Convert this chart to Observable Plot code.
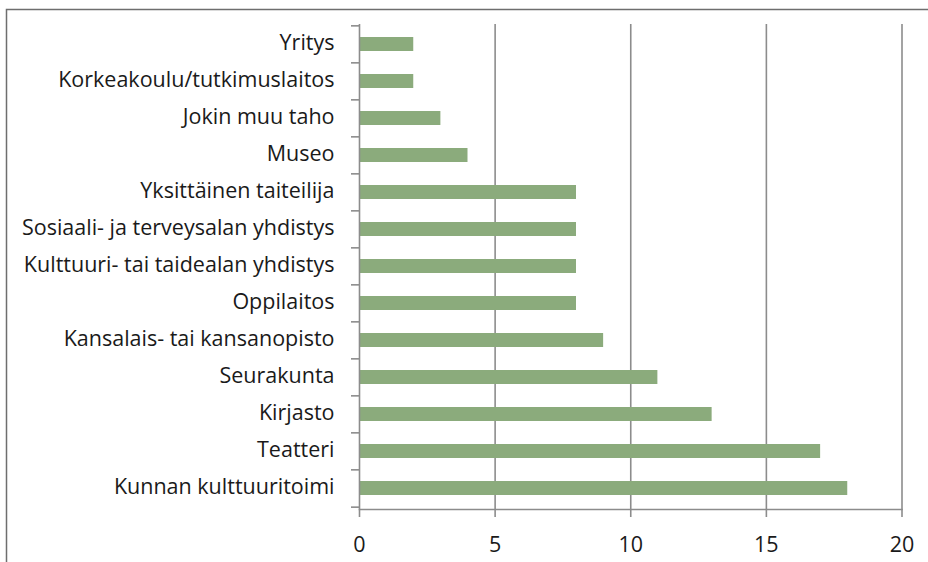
<!DOCTYPE html>
<html>
<head>
<meta charset="utf-8">
<script src="https://cdn.jsdelivr.net/npm/d3@7"></script>
<script src="https://cdn.jsdelivr.net/npm/@observablehq/plot@0.6"></script>
<style>
  html, body { margin: 0; padding: 0; background: #fff; }
  #chart { width: 928px; height: 562px; overflow: hidden; }
</style>
</head>
<body>
<div id="chart"></div>
<script>
const categories = [
  "Yritys",
  "Korkeakoulu/tutkimuslaitos",
  "Jokin muu taho",
  "Museo",
  "Yksittäinen taiteilija",
  "Sosiaali- ja terveysalan yhdistys",
  "Kulttuuri- tai taidealan yhdistys",
  "Oppilaitos",
  "Kansalais- tai kansanopisto",
  "Seurakunta",
  "Kirjasto",
  "Teatteri",
  "Kunnan kulttuuritoimi"
];
const values = [2, 2, 3, 4, 8, 8, 8, 8, 9, 11, 13, 17, 18];
const xTicks = [0, 5, 10, 15, 20];
const gridTicks = [5, 10, 15, 20];

const W = 928, H = 562;
const mTop = 24, mBottom = 53, mLeft = 359, mRight = 26.5;
const step = (H - mTop - mBottom) / categories.length;
const axisGray = "#8c8c8c";
const barColor = "#8bab7c";
const font = "'Open Sans', 'Liberation Sans', sans-serif";

const rows = categories.map((c, i) => ({category: c, value: values[i]}));

const chart = Plot.plot({
  width: W,
  height: H,
  marginTop: mTop,
  marginBottom: mBottom,
  marginLeft: mLeft,
  marginRight: mRight,
  style: {fontFamily: font, fontSize: "21.5px", color: "#1a1a1a", background: "#fff", overflow: "visible"},
  x: {domain: [0, 20], ticks: xTicks, label: null},
  y: {domain: categories, paddingInner: 0.61, paddingOuter: 0.305, label: null},
  marks: [
    Plot.gridX(gridTicks, {stroke: axisGray, strokeOpacity: 1, strokeWidth: 1.6}),
    Plot.barX(rows, {x: "value", y: "category", fill: barColor}),
    Plot.ruleX([0], {stroke: axisGray, strokeWidth: 1.6}),
    Plot.frame({anchor: "bottom", stroke: axisGray, strokeWidth: 1.6}),
    Plot.axisX(xTicks, {tickSize: 8, tickPadding: 19, stroke: axisGray, strokeWidth: 1.6, fontSize: 21.5, label: null}),
    Plot.axisY({tickSize: 0, tickPadding: 25, label: null, fontSize: 21.5, dy: -1}),
    Plot.axisY({tickSize: 8, text: null, label: null, dy: -step / 2, stroke: axisGray, strokeWidth: 1.6}),
    Plot.axisY([categories[categories.length - 1]], {tickSize: 8, text: null, label: null, dy: step / 2, stroke: axisGray, strokeWidth: 1.6})
  ]
});

// outer chart-area border (decorative frame)
d3.select(chart).insert("rect", ":first-child")
  .attr("x", 6.5).attr("y", 9.5)
  .attr("width", W).attr("height", H)
  .attr("fill", "none")
  .attr("stroke", "#6e6e6e")
  .attr("stroke-width", 1.5);

document.getElementById("chart").appendChild(chart);
</script>
</body>
</html>
